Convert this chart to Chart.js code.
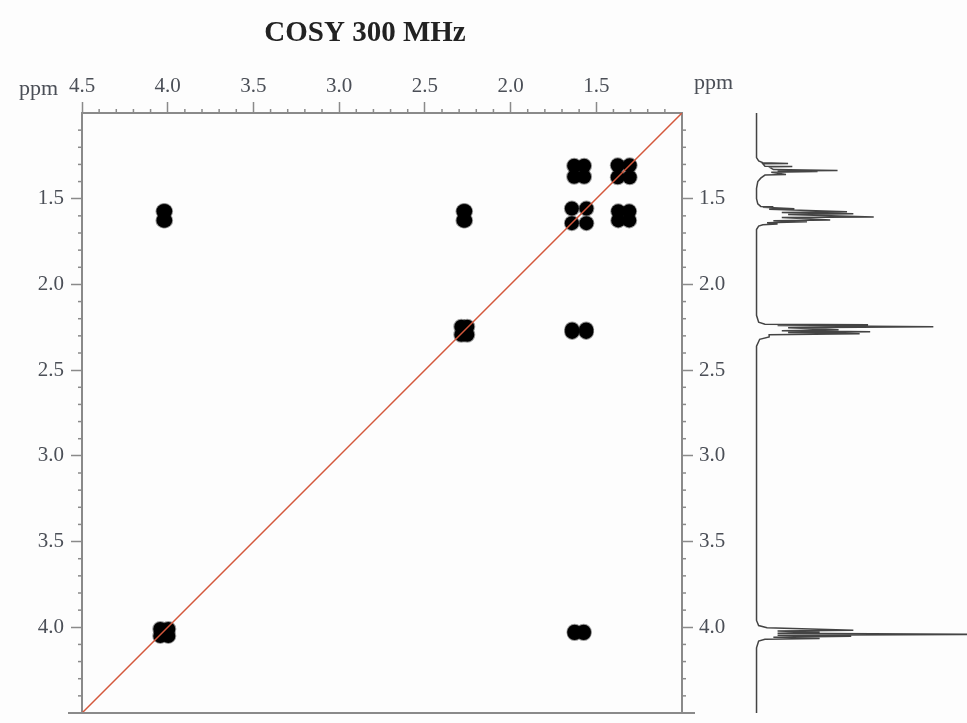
<!DOCTYPE html>
<html>
<head>
<meta charset="utf-8">
<script src="https://cdn.jsdelivr.net/npm/chart.js@4.4.0/dist/chart.umd.min.js"></script>
<style>
  body { margin: 0; background: #fdfdfd; }
  #wrap { position: relative; width: 967px; height: 723px; }
  canvas { position: absolute; top: 0; }
</style>
</head>
<body>
<div id="wrap">
  <canvas id="cosy" width="967" height="723" style="left:0"></canvas>
  <canvas id="proj" width="227" height="723" style="left:740px"></canvas>
</div>
<script>
// axis ticks (ppm)
const xTickVals = [4.5, 4.0, 3.5, 3.0, 2.5, 2.0, 1.5];
const xTickLabels = ["4.5", "4.0", "3.5", "3.0", "2.5", "2.0", "1.5"];
const yTickVals = [1.5, 2.0, 2.5, 3.0, 3.5, 4.0];
const yTickLabels = ["1.5", "2.0", "2.5", "3.0", "3.5", "4.0"];

// cross peaks: F2 (horizontal), F1 (vertical), spread of the 4 components in ppm
const peakF2 = [4.02, 2.27, 2.27, 1.60, 1.34, 1.60, 1.34, 1.60, 4.02, 1.60];
const peakF1 = [1.60, 1.60, 2.27, 1.34, 1.34, 1.60, 1.60, 2.27, 4.03, 4.03];
const splitF2 = [0.01, 0.01, 0.035, 0.058, 0.07, 0.085, 0.064, 0.082, 0.047, 0.053];
const splitF1 = [0.053, 0.053, 0.047, 0.064, 0.07, 0.085, 0.053, 0.014, 0.041, 0.008];

// diagonal
const diagPpm = [4.5, 1.0];

// 1D projection trace (ppm, intensity)
const specPpm = [1.00, 1.26, 1.28, 1.29, 1.294, 1.296, 1.31, 1.312, 1.315, 1.33, 1.335, 1.338, 1.341, 1.345,
  1.359, 1.362, 1.38, 1.40, 1.44, 1.50, 1.53, 1.545, 1.547, 1.55, 1.559, 1.562, 1.576, 1.58, 1.588, 1.592,
  1.606, 1.61, 1.624, 1.628, 1.635, 1.64, 1.647, 1.652, 1.66, 1.68,
  2.18, 2.22, 2.232, 2.235, 2.24, 2.247, 2.252, 2.265, 2.27, 2.276, 2.28, 2.288, 2.293, 2.306, 2.32, 2.36,
  3.96, 3.99, 4.003, 4.018, 4.022, 4.029, 4.035, 4.041, 4.046, 4.053, 4.058, 4.065, 4.07, 4.08, 4.12, 4.5];
const specInt = [0, 0, 0.01, 0.03, 0.15, 0.03, 0.04, 0.17, 0.06, 0.08, 0.385, 0.10, 0.29, 0.07,
  0.14, 0.04, 0.02, 0.006, 0, 0, 0.006, 0.02, 0.08, 0.03, 0.18, 0.06, 0.43, 0.12, 0.46, 0.15,
  0.557, 0.12, 0.35, 0.08, 0.24, 0.05, 0.10, 0.03, 0.01, 0,
  0, 0.01, 0.04, 0.53, 0.10, 0.84, 0.15, 0.39, 0.12, 0.54, 0.15, 0.49, 0.06, 0.06, 0.015, 0,
  0, 0.01, 0.05, 0.46, 0.10, 0.30, 0.10, 1.2, 0.10, 0.45, 0.08, 0.30, 0.04, 0.01, 0, 0];

const AXIS = "#8a8a8a";
const LABEL = "#4b4f57";
const SERIF = "'Liberation Serif', 'DejaVu Serif', serif";

const blobs = [];
peakF2.forEach((f2, i) => {
  const f1 = peakF1[i], h2 = splitF2[i] / 2, h1 = splitF1[i] / 2;
  blobs.push({ x: f2 - h2, y: f1 - h1 }, { x: f2 + h2, y: f1 - h1 },
             { x: f2 - h2, y: f1 + h1 }, { x: f2 + h2, y: f1 + h1 });
});

function axisBase(extra) {
  return Object.assign({
    type: "linear", min: 1.0, max: 4.5, reverse: true,
    border: { color: AXIS, width: 2 },
    grid: { drawOnChartArea: false, drawTicks: true, tickLength: 11, tickColor: AXIS, tickWidth: 1.5 },
    ticks: { font: { family: SERIF, size: 21 }, color: LABEL }
  }, extra);
}

// fixed axis sizes so the plot frame sits where the picture has it
function fixSize(w, h) {
  return s => {
    if (w !== null) s.width = w;
    if (h !== null) s.height = h;
    s.paddingTop = 0; s.paddingBottom = 0; s.paddingLeft = 0; s.paddingRight = 0;
  };
}

const minorTicks = {
  id: "minorTicks",
  afterDraw(chart) {
    const ctx = chart.ctx;
    const { top, bottom, left, right } = chart.chartArea;
    ctx.save();
    ctx.strokeStyle = AXIS;
    ctx.lineWidth = 1.5;
    for (let k = 11; k < 45; k++) {
      if (k % 5 === 0) continue;
      const v = k / 10;
      const px = chart.scales.x.getPixelForValue(v);
      ctx.beginPath(); ctx.moveTo(px, top); ctx.lineTo(px, top - 4); ctx.stroke();
      const py = chart.scales.y.getPixelForValue(v);
      ctx.beginPath(); ctx.moveTo(left, py); ctx.lineTo(left - 4, py); ctx.stroke();
      ctx.beginPath(); ctx.moveTo(right, py); ctx.lineTo(right + 4, py); ctx.stroke();
    }
    // bottom frame line runs a little past both sides
    ctx.lineWidth = 2;
    ctx.beginPath(); ctx.moveTo(left - 14, bottom); ctx.lineTo(right + 13, bottom); ctx.stroke();
    ctx.fillStyle = LABEL;
    ctx.font = "22px " + SERIF;
    ctx.textBaseline = "alphabetic";
    ctx.fillText("ppm", 19, 95);
    ctx.fillText("ppm", 694, 89);
    ctx.restore();
  }
};

new Chart(document.getElementById("cosy"), {
  type: "scatter",
  data: {
    datasets: [{
      data: diagPpm.map(v => ({ x: v, y: v })),
      showLine: true, borderColor: "#d4583c", borderWidth: 1.5, pointRadius: 0
    }, {
      data: blobs,
      pointRadius: 7, pointBackgroundColor: "#000",
      pointBorderWidth: 2, pointBorderColor: "rgba(0,0,0,0.4)"
    }]
  },
  options: {
    responsive: false, animation: false,
    layout: { autoPadding: false, padding: { left: 0, right: 237, top: 0, bottom: 0 } },
    plugins: {
      legend: { display: false }, tooltip: { enabled: false },
      title: {
        display: true, text: "COSY 300 MHz", color: "#222",
        font: { family: SERIF, size: 29, weight: "bold" },
        padding: { top: 16, bottom: 0 }
      }
    },
    scales: {
      x: axisBase({
        position: "top",
        afterFit: fixSize(null, 113 - 16 - 29 * 1.2),
        afterBuildTicks: s => { s.ticks = xTickVals.map(v => ({ value: v })); },
        ticks: { font: { family: SERIF, size: 21 }, color: LABEL, padding: 3, maxRotation: 0,
                 callback: (v, i) => xTickLabels[i] }
      }),
      xb: axisBase({
        position: "bottom",
        afterFit: fixSize(null, 10),
        grid: { display: false },
        ticks: { display: false }
      }),
      y: axisBase({
        position: "left",
        afterFit: fixSize(82, null),
        afterBuildTicks: s => { s.ticks = yTickVals.map(v => ({ value: v })); },
        ticks: { font: { family: SERIF, size: 21 }, color: LABEL, padding: 7,
                 callback: (v, i) => yTickLabels[i] }
      }),
      yr: axisBase({
        position: "right",
        afterFit: fixSize(48, null),
        afterBuildTicks: s => { s.ticks = yTickVals.map(v => ({ value: v })); },
        ticks: { font: { family: SERIF, size: 21 }, color: LABEL, padding: 6,
                 callback: (v, i) => yTickLabels[i] }
      })
    }
  },
  plugins: [minorTicks]
});

new Chart(document.getElementById("proj"), {
  type: "scatter",
  data: {
    datasets: [{
      data: specPpm.map((p, i) => ({ x: specInt[i], y: p })),
      showLine: true, borderColor: "#444", borderWidth: 1.5, pointRadius: 0, tension: 0
    }]
  },
  options: {
    responsive: false, animation: false,
    layout: { autoPadding: false, padding: { left: 6, right: 0, top: 113, bottom: 10 } },
    plugins: { legend: { display: false }, tooltip: { enabled: false } },
    scales: {
      x: { type: "linear", min: -0.05, max: 1.0, display: false },
      y: { type: "linear", min: 1.0, max: 4.5, reverse: true, display: false }
    }
  }
});
</script>
</body>
</html>
